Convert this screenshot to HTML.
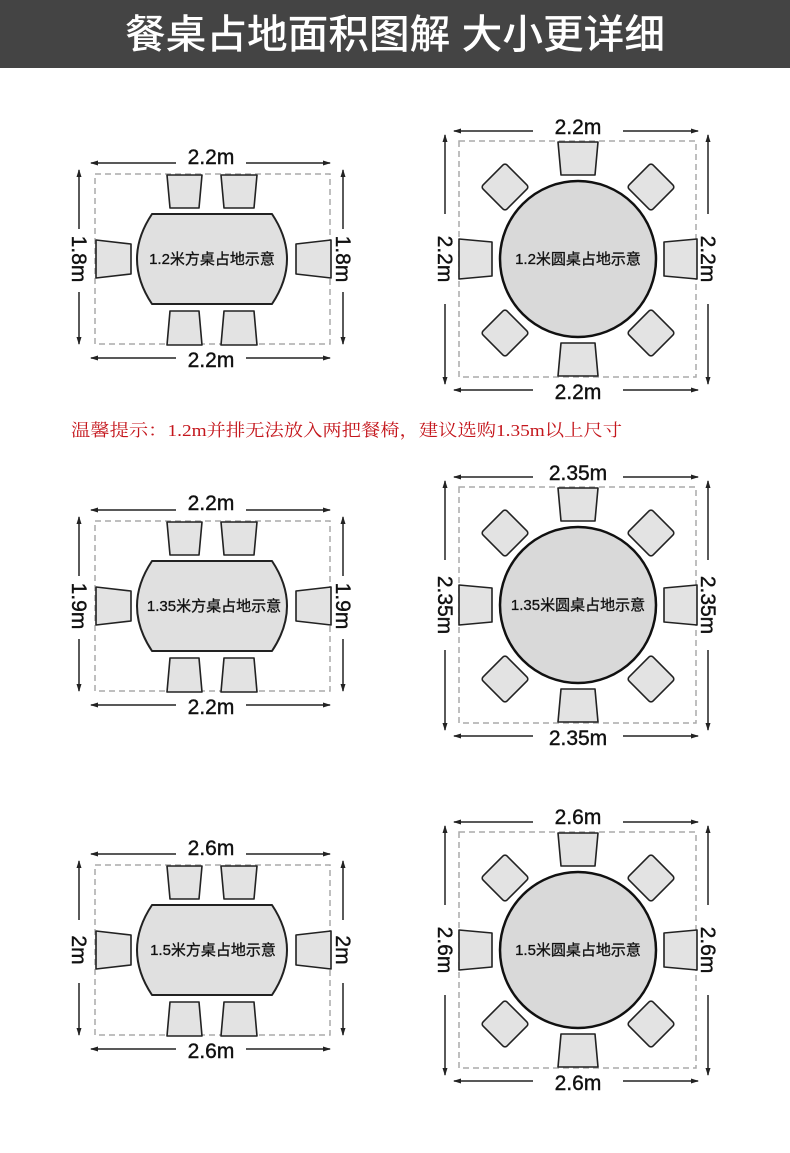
<!DOCTYPE html>
<html><head><meta charset="utf-8"><style>
html,body{margin:0;padding:0;background:#fff;}
svg{display:block;}
</style></head><body>
<svg width="790" height="1153" viewBox="0 0 790 1153" xmlns="http://www.w3.org/2000/svg">
<defs>
<marker id="ah" markerWidth="8" markerHeight="8" refX="7" refY="4" orient="auto" markerUnits="userSpaceOnUse">
<path d="M0,1.5 L8,4 L0,6.5 Z" fill="#222"/>
</marker>
<g id="rectchairs" fill="#e3e3e3" stroke="#222" stroke-width="1.6" stroke-linejoin="round">
<path d="M167,1 L202,1 L199,34 L170,34 Z"/>
<path d="M221,1 L257,1 L254,34 L224,34 Z"/>
<path d="M170,137 L199,137 L202,171 L167,171 Z"/>
<path d="M224,137 L254,137 L257,171 L221,171 Z"/>
<path d="M96,66 L131,70 L131,100 L96,104 Z"/>
<path d="M296,70 L331,66 L331,104 L296,100 Z"/>
<path d="M152,40 L272,40 Q302,85 272,130 L152,130 Q122,85 152,40 Z" fill="#e0e0e0" stroke-width="2"/>
</g>
<g id="rectframe">
<rect x="95" y="0" width="235" height="170" fill="none" stroke="#aaa" stroke-width="1.5" stroke-dasharray="6,4"/>
<g stroke="#222" stroke-width="1.5">
<line x1="176" y1="-11" x2="91" y2="-11" marker-end="url(#ah)"/>
<line x1="246" y1="-11" x2="330" y2="-11" marker-end="url(#ah)"/>
<line x1="176" y1="184" x2="91" y2="184" marker-end="url(#ah)"/>
<line x1="246" y1="184" x2="330" y2="184" marker-end="url(#ah)"/>
<line x1="79" y1="55" x2="79" y2="-4" marker-end="url(#ah)"/>
<line x1="79" y1="118" x2="79" y2="170" marker-end="url(#ah)"/>
<line x1="343" y1="55" x2="343" y2="-4" marker-end="url(#ah)"/>
<line x1="343" y1="118" x2="343" y2="170" marker-end="url(#ah)"/>
</g>
</g>
<g id="roundchairs" fill="#e3e3e3" stroke="#222" stroke-width="1.6" stroke-linejoin="round">
<path d="M-20,-117 L20,-117 L17,-84 L-17,-84 Z"/>
<path d="M-17,84 L17,84 L20,117 L-20,117 Z"/>
<path d="M-119,-20 L-86,-17 L-86,17 L-119,20 Z"/>
<path d="M86,-17 L119,-20 L119,20 L86,17 Z"/>
<rect x="-17" y="-17" width="34" height="34" rx="3" transform="translate(-73,-72) rotate(45)"/>
<rect x="-17" y="-17" width="34" height="34" rx="3" transform="translate(73,-72) rotate(45)"/>
<rect x="-17" y="-17" width="34" height="34" rx="3" transform="translate(-73,74) rotate(45)"/>
<rect x="-17" y="-17" width="34" height="34" rx="3" transform="translate(73,74) rotate(45)"/>
<circle cx="0" cy="0" r="78" fill="#d9d9d9" stroke="#111" stroke-width="2.5"/>
</g>
<g id="roundframe">
<rect x="-119" y="-118" width="237" height="236" fill="none" stroke="#aaa" stroke-width="1.5" stroke-dasharray="6,4"/>
<g stroke="#222" stroke-width="1.5">
<line x1="-45" y1="-128" x2="-124" y2="-128" marker-end="url(#ah)"/>
<line x1="45" y1="-128" x2="120" y2="-128" marker-end="url(#ah)"/>
<line x1="-45" y1="131" x2="-124" y2="131" marker-end="url(#ah)"/>
<line x1="45" y1="131" x2="120" y2="131" marker-end="url(#ah)"/>
<line x1="-133" y1="-45" x2="-133" y2="-124" marker-end="url(#ah)"/>
<line x1="-133" y1="45" x2="-133" y2="125" marker-end="url(#ah)"/>
<line x1="130" y1="-45" x2="130" y2="-124" marker-end="url(#ah)"/>
<line x1="130" y1="45" x2="130" y2="125" marker-end="url(#ah)"/>
</g>
</g>
</defs>

<rect x="0" y="0" width="790" height="68" fill="#444"/>
<text x="395" y="48" text-anchor="middle" fill="#fff" font-family="'Liberation Sans','Noto Sans CJK SC',sans-serif" font-size="40" font-weight="500" textLength="540" lengthAdjust="spacingAndGlyphs">餐桌占地面积图解 大小更详细</text>

<g font-family="'Liberation Sans','Noto Sans CJK SC',sans-serif" fill="#111">
<g transform="translate(0,174)">
<use href="#rectframe"/><use href="#rectchairs"/>
<g font-size="21" text-anchor="middle" stroke="#111" stroke-width="0.4">
<text x="211" y="-10">2.2m</text><text x="211" y="193">2.2m</text>
<text transform="translate(79,85) rotate(90)" y="7">1.8m</text>
<text transform="translate(343,85) rotate(90)" y="7">1.8m</text>
</g>
<text x="212" y="90" font-size="15" text-anchor="middle" stroke="#111" stroke-width="0.3">1.2米方桌占地示意</text>
</g>
<g transform="translate(0,521)">
<use href="#rectframe"/><use href="#rectchairs"/>
<g font-size="21" text-anchor="middle" stroke="#111" stroke-width="0.4">
<text x="211" y="-11">2.2m</text><text x="211" y="193">2.2m</text>
<text transform="translate(79,85) rotate(90)" y="7">1.9m</text>
<text transform="translate(343,85) rotate(90)" y="7">1.9m</text>
</g>
<text x="214" y="90" font-size="15" text-anchor="middle" stroke="#111" stroke-width="0.3">1.35米方桌占地示意</text>
</g>
<g transform="translate(0,865)">
<use href="#rectframe"/><use href="#rectchairs"/>
<g font-size="21" text-anchor="middle" stroke="#111" stroke-width="0.4">
<text x="211" y="-10">2.6m</text><text x="211" y="193">2.6m</text>
<text transform="translate(79,85) rotate(90)" y="7">2m</text>
<text transform="translate(343,85) rotate(90)" y="7">2m</text>
</g>
<text x="213" y="90" font-size="15" text-anchor="middle" stroke="#111" stroke-width="0.3">1.5米方桌占地示意</text>
</g>

<g transform="translate(578,259)">
<use href="#roundframe"/><use href="#roundchairs"/>
<g font-size="21" text-anchor="middle" stroke="#111" stroke-width="0.4">
<text x="0" y="-125">2.2m</text><text x="0" y="140">2.2m</text>
<text transform="translate(-133,0) rotate(90)" y="7">2.2m</text>
<text transform="translate(130,0) rotate(90)" y="7">2.2m</text>
</g>
<text x="0" y="5" font-size="15" text-anchor="middle" stroke="#111" stroke-width="0.3">1.2米圆桌占地示意</text>
</g>
<g transform="translate(578,605)">
<use href="#roundframe"/><use href="#roundchairs"/>
<g font-size="21" text-anchor="middle" stroke="#111" stroke-width="0.4">
<text x="0" y="-125">2.35m</text><text x="0" y="140">2.35m</text>
<text transform="translate(-133,0) rotate(90)" y="7">2.35m</text>
<text transform="translate(130,0) rotate(90)" y="7">2.35m</text>
</g>
<text x="0" y="5" font-size="15" text-anchor="middle" stroke="#111" stroke-width="0.3">1.35米圆桌占地示意</text>
</g>
<g transform="translate(578,950)">
<use href="#roundframe"/><use href="#roundchairs"/>
<g font-size="21" text-anchor="middle" stroke="#111" stroke-width="0.4">
<text x="0" y="-126">2.6m</text><text x="0" y="140">2.6m</text>
<text transform="translate(-133,0) rotate(90)" y="7">2.6m</text>
<text transform="translate(130,0) rotate(90)" y="7">2.6m</text>
</g>
<text x="0" y="5" font-size="15" text-anchor="middle" stroke="#111" stroke-width="0.3">1.5米圆桌占地示意</text>
</g>
</g>

<text x="71" y="436" fill="#c4161c" font-family="'Liberation Serif','Noto Serif CJK SC',serif" font-size="17" textLength="551" lengthAdjust="spacingAndGlyphs">温馨提示：1.2m并排无法放入两把餐椅，建议选购1.35m以上尺寸</text>
</svg>
</body></html>
